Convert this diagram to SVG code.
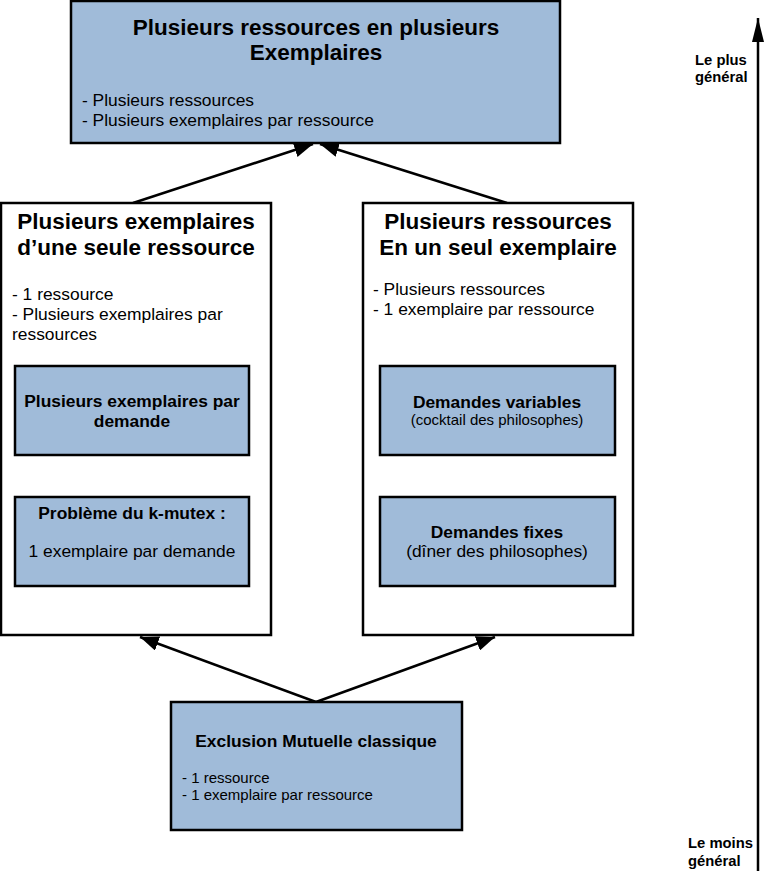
<svg xmlns="http://www.w3.org/2000/svg" width="774" height="873" viewBox="0 0 774 873">
<defs>
<style>
.box{fill:#a0bbd9;stroke:#000;stroke-width:2.5}
.wbox{fill:#fff;stroke:#000;stroke-width:2.5}
text{font-family:"Liberation Sans",Arial,sans-serif;fill:#000}
.t{font-size:22.5px;font-weight:bold;text-anchor:middle}
.b{font-size:17.4px}
.bb{font-size:17.4px;font-weight:bold;text-anchor:middle}
.c{text-anchor:middle}
.s{font-size:15px}
.lab{font-size:14.8px;font-weight:bold}
.con{stroke:#000;stroke-width:2.5;fill:none}
</style>
<marker id="ah" viewBox="0 0 10 8" refX="10" refY="4" markerWidth="7.5" markerHeight="6" orient="auto">
<path d="M0,0 L10,4 L0,8 Z" fill="#000"/>
</marker>
<marker id="ahl" viewBox="0 0 16 8" refX="16" refY="4" markerWidth="9.6" markerHeight="5.8" orient="auto">
<path d="M0,0 L16,4 L0,8 Z" fill="#000"/>
</marker>
</defs>
<rect width="774" height="873" fill="#fff"/>
<g id="connectors">
<line class="con" x1="133" y1="203" x2="313" y2="144" marker-end="url(#ah)"/>
<line class="con" x1="507" y1="203" x2="320" y2="144" marker-end="url(#ah)"/>
<line class="con" x1="316" y1="702" x2="140" y2="637" marker-end="url(#ah)"/>
<line class="con" x1="316" y1="702" x2="495" y2="637" marker-end="url(#ah)"/>
<line class="con" x1="758" y1="871" x2="758" y2="18" marker-end="url(#ahl)"/>
</g>
<g id="top">
<rect class="box" x="71" y="1" width="489" height="142"/>
<text class="t" x="316" y="35">Plusieurs ressources en plusieurs</text>
<text class="t" x="316" y="60">Exemplaires</text>
<text class="b" x="82" y="106">- Plusieurs ressources</text>
<text class="b" x="82" y="126">- Plusieurs exemplaires par ressource</text>
</g>
<g id="left">
<rect class="wbox" x="1" y="203" width="270" height="432"/>
<text class="t" x="136" y="229">Plusieurs exemplaires</text>
<text class="t" x="136" y="255">d’une seule ressource</text>
<text class="b" x="12" y="300">- 1 ressource</text>
<text class="b" x="12" y="320">- Plusieurs exemplaires par</text>
<text class="b" x="12" y="340">ressources</text>
</g>
<g id="left-a">
<rect class="box" x="15" y="366" width="234" height="89"/>
<text class="bb" x="132" y="407">Plusieurs exemplaires par</text>
<text class="bb" x="132" y="427">demande</text>
</g>
<g id="left-b">
<rect class="box" x="15" y="497" width="234" height="89"/>
<text class="bb" x="132" y="519">Problème du k-mutex :</text>
<text class="b c" x="132" y="557">1 exemplaire par demande</text>
</g>
<g id="right">
<rect class="wbox" x="363" y="203" width="270" height="432"/>
<text class="t" x="498" y="229">Plusieurs ressources</text>
<text class="t" x="498" y="255">En un seul exemplaire</text>
<text class="b" x="373" y="295">- Plusieurs ressources</text>
<text class="b" x="373" y="315">- 1 exemplaire par ressource</text>
</g>
<g id="right-a">
<rect class="box" x="380" y="366" width="235" height="89"/>
<text class="bb" x="497" y="408">Demandes variables</text>
<text class="s c" x="497" y="425">(cocktail des philosophes)</text>
</g>
<g id="right-b">
<rect class="box" x="380" y="497" width="235" height="89"/>
<text class="bb" x="497" y="538">Demandes fixes</text>
<text class="b c" x="497" y="557">(dîner des philosophes)</text>
</g>
<g id="bottom">
<rect class="box" x="171" y="702" width="291" height="128"/>
<text class="bb" x="316" y="747">Exclusion Mutuelle classique</text>
<text class="s" x="182" y="783">- 1 ressource</text>
<text class="s" x="182" y="800">- 1 exemplaire par ressource</text>
</g>
<g id="axis-labels">
<text class="lab" x="695" y="65">Le plus</text>
<text class="lab" x="695" y="82">général</text>
<text class="lab" x="688" y="848">Le moins</text>
<text class="lab" x="688" y="866">général</text>
</g>
</svg>
